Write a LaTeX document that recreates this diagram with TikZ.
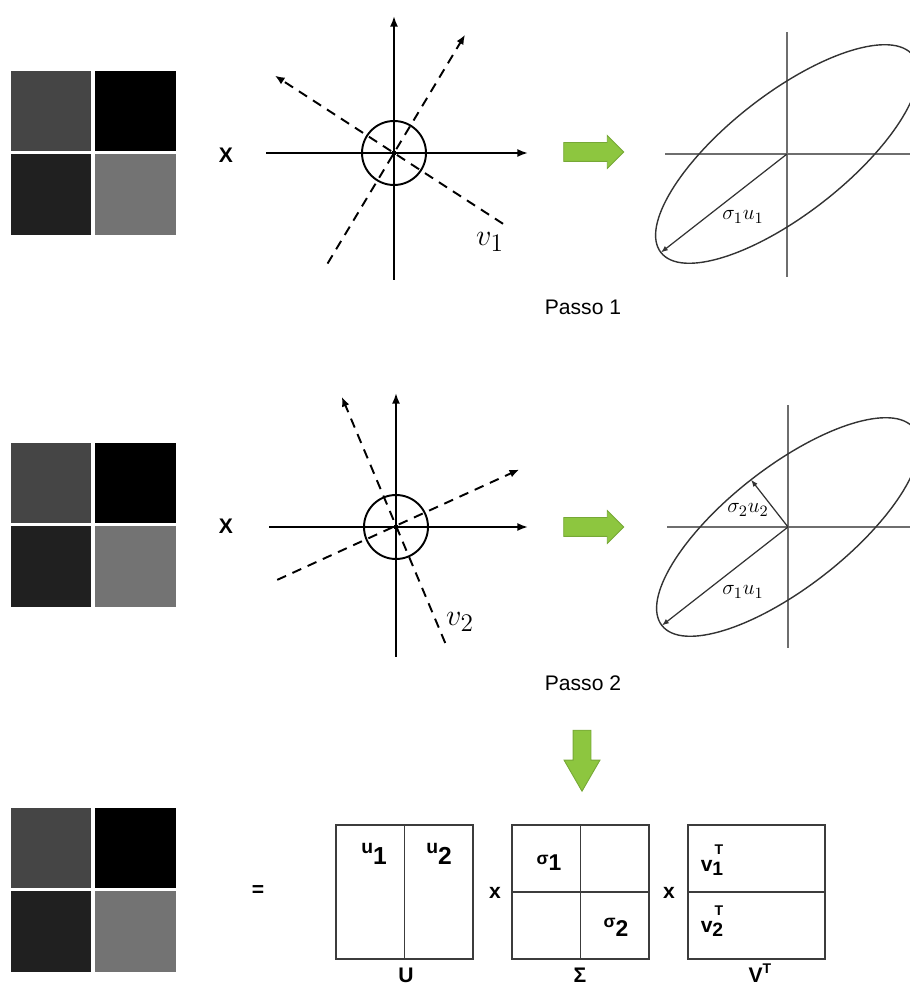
\documentclass[tikz,border=0pt]{standalone}
\usepackage{fontspec}
\setsansfont{Liberation Sans}
\usepackage{tikz}
\usetikzlibrary{arrows.meta,calc,shapes.arrows}
\definecolor{PixDark}{HTML}{454545}
\definecolor{PixBlack}{HTML}{000000}
\definecolor{PixDeep}{HTML}{202020}
\definecolor{PixMid}{HTML}{737373}
\definecolor{GoGreen}{HTML}{8DC63F}
\definecolor{GoGreenEdge}{HTML}{76A836}
\definecolor{PlotGray}{HTML}{6E6E6E}
\definecolor{CurveGray}{HTML}{333333}
\definecolor{BoxGray}{HTML}{3C3C3C}
\newcommand{\oddsub}[5]{{\fontsize{#2}{#2}\selectfont #1}\raisebox{-#5}{\fontsize{#4}{#4}\selectfont #3}}
\tikzset{
  >=Latex,
  axisline/.style={-{Latex[length=6pt,width=4.5pt]},line width=1.1pt},
  dirvec/.style={-{Latex[length=5.5pt,width=4.5pt]},line width=1.1pt,dash pattern=on 5.5pt off 4pt},
  ring/.style={line width=1.1pt},
  plotaxis/.style={draw=PlotGray,line width=0.8pt},
  curve/.style={draw=CurveGray,line width=0.8pt},
  semiaxis/.style={-{Latex[length=4pt,width=3pt]},draw=CurveGray,line width=0.7pt},
  goright/.style={single arrow,draw=GoGreenEdge,fill=GoGreen,line width=0.5pt,
    minimum height=1.2cm,minimum width=0.64cm,inner xsep=0pt,inner ysep=0.18cm,
    single arrow head extend=0.14cm},
  godown/.style={goright,shape border rotate=270,minimum height=1.22cm,minimum width=0.7cm,
    inner xsep=0.17cm,inner ysep=0pt,single arrow head extend=0.18cm,single arrow tip angle=60},
  matbox/.style={draw=BoxGray,line width=0.7pt,minimum width=2.74cm,minimum height=2.68cm,inner sep=0pt},
  matline/.style={draw=BoxGray,line width=0.7pt},
  symb/.style={font=\sffamily\bfseries\fontsize{12}{14}\selectfont,inner sep=0pt},
  steplabel/.style={font=\sffamily\fontsize{12}{14}\selectfont,inner sep=0pt},
  veclabel/.style={font=\fontsize{19}{22}\selectfont,inner sep=0pt},
  gainlabel/.style={font=\fontsize{13}{15}\selectfont,inner sep=0pt},
  entry/.style={font=\sffamily\bfseries,inner sep=0pt}
}
\begin{document}
\begin{tikzpicture}[x=0.02cm,y=0.02cm]
  \useasboundingbox (0,0) rectangle (910,985);
  \clip (0,0) rectangle (910,985);

  % the 2x2 image, three times
  \foreach \gtop in {914,542,177} {
    \fill[PixDark]  (11,\gtop) rectangle ++(80,-80);
    \fill[PixBlack] (95,\gtop) rectangle ++(81,-80);
    \fill[PixDeep]  (11,\gtop-83) rectangle ++(80,-81);
    \fill[PixMid]   (95,\gtop-83) rectangle ++(81,-81);
  }
  \node[symb] (xA) at (226,830) {X};
  \node[symb] (xB) at (226,459) {X};
  \node[symb] (eq) at (258,94) {=};

  % step 1: unit circle and v1
  \coordinate (oA) at (394,832);
  \draw[axisline] (oA) ++(-128,0) -- ++(262,0);
  \draw[axisline] (oA) ++(0,-127) -- ++(0,264);
  \draw[ring] (oA) circle[radius=32];
  \fill (oA) circle[radius=2.5];
  \draw[dirvec] ($(oA)+(239:129)$) -- ($(oA)+(59:138)$);
  \draw[dirvec] ($(oA)+(-33:130)$) -- ($(oA)+(147:142)$);
  \node[veclabel] (vA) at (490,743) {$v_1$};

  \node[goright] (goA) at (589,833) {};

  \coordinate (eA) at (787,831);
  \draw[plotaxis] (eA) ++(-122,0) -- ++(250,0);
  \draw[plotaxis] (eA) ++(0,-123) -- ++(0,245);
  \draw[curve,rotate around={38:(eA)}] (eA) ellipse[x radius=160,y radius=60];
  \draw[semiaxis] (eA) -- ($(eA)+(218:160)$);
  \node[gainlabel] (sA) at (743,768) {$\sigma_1u_1$};
  \node[steplabel] (passoA) at (583,678) {Passo 1};

  % step 2: unit circle and v2
  \coordinate (oB) at (396,458);
  \draw[axisline] (oB) ++(-127,0) -- ++(259,0);
  \draw[axisline] (oB) ++(0,-130) -- ++(0,264);
  \draw[ring] (oB) circle[radius=32];
  \fill (oB) circle[radius=2.5];
  \draw[dirvec] ($(oB)+(-67:126)$) -- ($(oB)+(112.6:141)$);
  \draw[dirvec] ($(oB)+(204:130)$) -- ($(oB)+(25:136)$);
  \node[veclabel] (vB) at (460,363) {$v_2$};

  \node[goright] (goB) at (589,458) {};

  \coordinate (eB) at (788,458);
  \draw[plotaxis] (eB) ++(-121,0) -- ++(248,0);
  \draw[plotaxis] (eB) ++(0,-121) -- ++(0,243);
  \draw[curve,rotate around={38:(eB)}] (eB) ellipse[x radius=160,y radius=60];
  \draw[semiaxis] (eB) -- ($(eB)+(218:160)$);
  \draw[semiaxis] (eB) -- ($(eB)+(128:60)$);
  \node[gainlabel] (sB) at (748,475) {$\sigma_2u_2$};
  \node[gainlabel] (sC) at (743,393) {$\sigma_1u_1$};
  \node[steplabel] (passoB) at (583,302) {Passo 2};

  \node[godown] (goC) at (582,232) {};

  % U x Sigma x V^T
  \node[matbox] (Umat) at (404.5,93) {};
  \draw[matline] (Umat.north) -- (Umat.south);
  \node[matbox] (Smat) at (580.5,93) {};
  \draw[matline] (Smat.north) -- (Smat.south);
  \draw[matline] (Smat.west) -- (Smat.east);
  \node[matbox] (Vmat) at (756.5,93) {};
  \draw[matline] (Vmat.west) -- (Vmat.east);

  \node[entry] (u1) at (374,131) {\oddsub{u}{11}{1}{14}{6pt}};
  \node[entry] (u2) at (439,131) {\oddsub{u}{11}{2}{14}{6pt}};
  \node[entry] (s1) at (549,122) {\oddsub{σ}{10}{1}{13}{3.5pt}};
  \node[entry] (s2) at (616,58) {\oddsub{σ}{10}{2}{13}{5pt}};
  \node[entry] (v1) at (712,125) {\oddsub{v}{12}{1}{11}{2pt}\llap{\raisebox{10pt}{\fontsize{8}{8}\selectfont T}}};
  \node[entry] (v2) at (712,64) {\oddsub{v}{12}{2}{11}{2pt}\llap{\raisebox{10pt}{\fontsize{8}{8}\selectfont T}}};
  \node[symb] (mulA) at (495,92) {x};
  \node[symb] (mulB) at (669,92) {x};

  \node[symb,anchor=south] (Ulbl) at (406,2) {U};
  \node[symb,anchor=south] (Slbl) at (580,2) {Σ};
  \node[symb,anchor=south] (Vlbl) at (760,2) {V\raisebox{5pt}{\fontsize{8}{8}\selectfont T}};
\end{tikzpicture}
\end{document}
